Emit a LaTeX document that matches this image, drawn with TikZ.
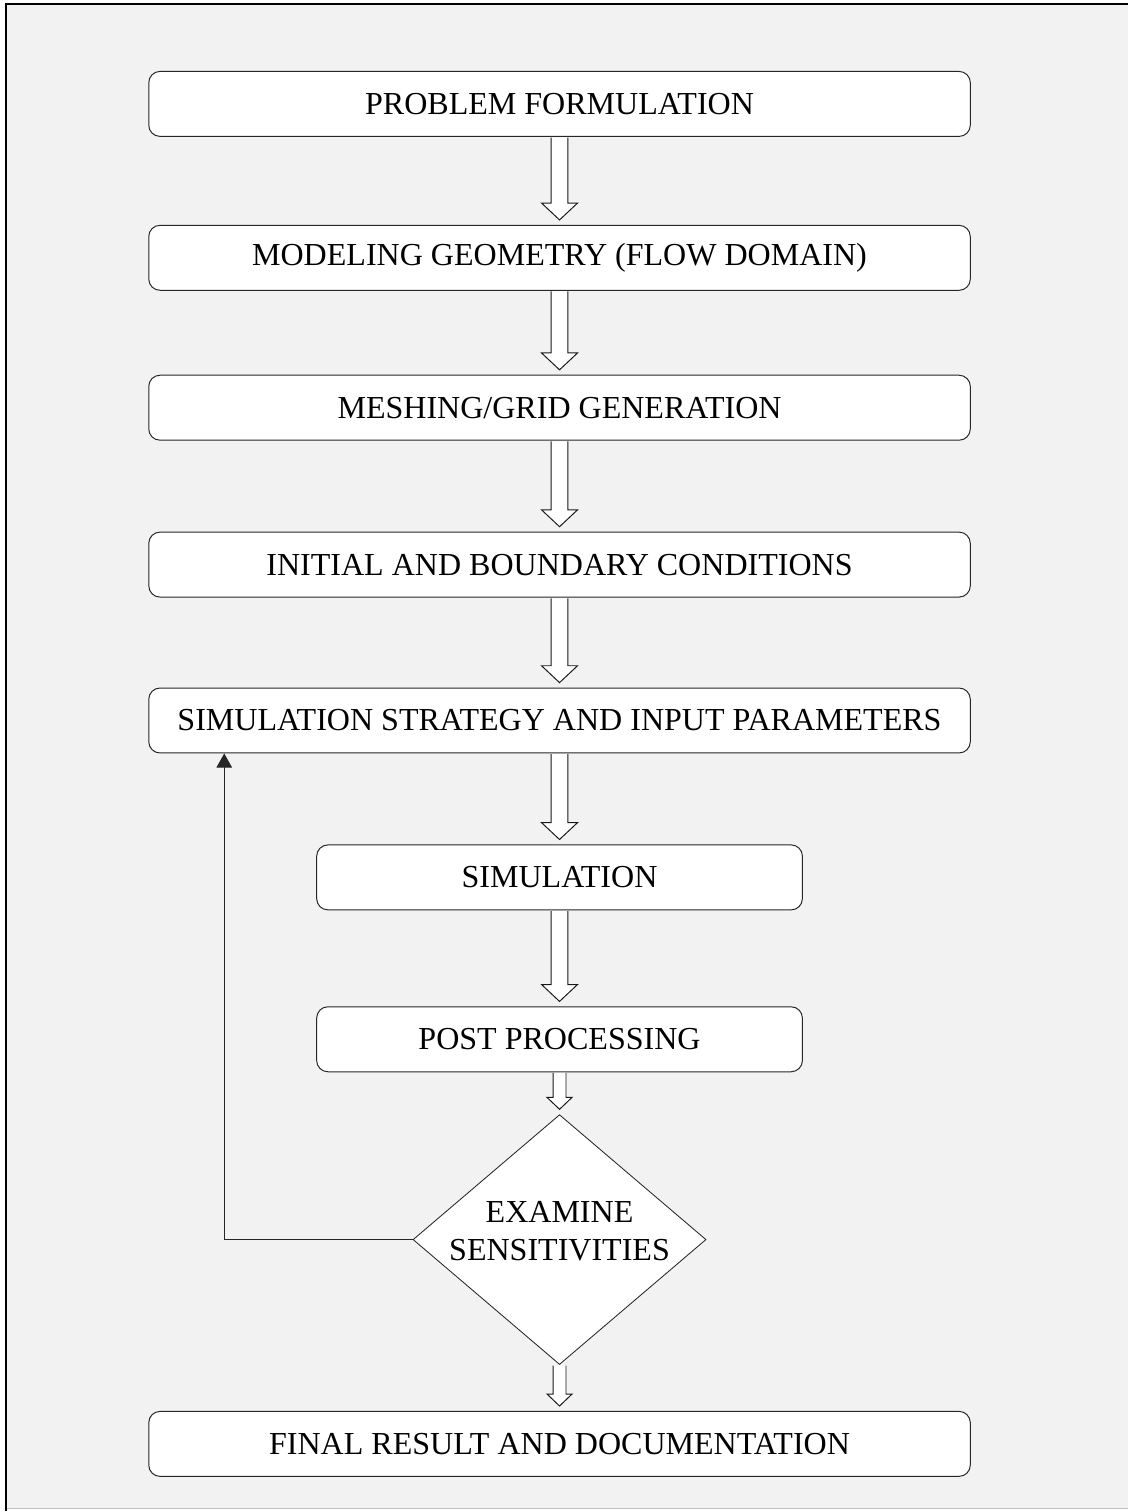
\documentclass[tikz,border=0pt]{standalone}
\usepackage{fontspec}
\setmainfont{Liberation Serif}
\usepackage{xcolor}
\usetikzlibrary{arrows.meta, positioning, shapes.geometric, calc}

\definecolor{panelgray}{HTML}{F2F2F2}
\definecolor{edgegray}{HTML}{C0C0C0}

% hollow block arrow from the bottom of #1 to the top of #2
% #3 shaft half width, #4 head half width, #5 head length
\newcommand{\fatarrow}[5]{%
  \draw[hollow] let \p1=(#1.south), \p2=(#2.north) in
    (\x1-#3,\y1-0.5pt) -- (\x1-#3,\y2+#5+3.5pt) -- (\x1-#4,\y2+#5+3.5pt)
    -- (\x1,\y2+3.5pt) -- (\x1+#4,\y2+#5+3.5pt) -- (\x1+#3,\y2+#5+3.5pt)
    -- (\x1+#3,\y1-0.5pt);
}

\begin{document}
\begin{tikzpicture}[
    x=0.025cm, y=-0.025cm,
    font=\fontsize{22.8}{27}\selectfont,
    stepbox/.style={rectangle, draw=black!85, line width=0.7pt, fill=white, rounded corners=8pt, minimum height=1.625cm, minimum width=20.55cm, align=center, inner sep=2pt},
    smallbox/.style={stepbox, minimum width=12.15cm},
    decision/.style={diamond, draw=black!85, line width=0.6pt, fill=white, minimum width=7.33cm, minimum height=6.25cm, inner sep=0pt},
    hollow/.style={draw=black!90, line width=0.7pt, fill=white, line join=miter},
    feedback/.style={-{Triangle[length=10pt, width=11pt]}, draw=black!85, line width=0.7pt},
]
    % Frame
    \fill[white] (0,0) rectangle (1129,1512);
    \fill[panelgray] (6,4) rectangle (1129,1510);
    \draw[edgegray, line width=1pt] (6,1510) -- (1129,1510);
    \draw[black, line width=1.8pt] (6,1512) -- (6,4) -- (1129,4);

    % Process steps
    \node[stepbox] (problem) at (560,104) {PROBLEM FORMULATION};
    \node[stepbox, below=2.2cm of problem] (geometry) {MODELING GEOMETRY (FLOW DOMAIN)};
    \node[stepbox, below=2.1cm of geometry] (meshing) {MESHING/GRID GENERATION};
    \node[stepbox, below=2.275cm of meshing] (conditions) {INITIAL AND BOUNDARY CONDITIONS};
    \node[stepbox, below=2.25cm of conditions] (strategy) {SIMULATION STRATEGY AND INPUT PARAMETERS};
    \node[smallbox, below=2.275cm of strategy] (simulation) {SIMULATION};
    \node[smallbox, below=2.4cm of simulation] (post) {POST PROCESSING};

    % Decision
    \node[decision, below=1.05cm of post] (examine) {};
    \node[align=center, yshift=0.2cm] (examtext) at (examine) {EXAMINE\\SENSITIVITIES};

    % Result
    \node[stepbox, below=1.15cm of examine] (final) {FINAL RESULT AND DOCUMENTATION};

    % Block arrows
    \fatarrow{problem}{geometry}{6pt}{12.8pt}{12pt}
    \fatarrow{geometry}{meshing}{6pt}{12.8pt}{12pt}
    \fatarrow{meshing}{conditions}{6pt}{12.8pt}{12pt}
    \fatarrow{conditions}{strategy}{6pt}{12.8pt}{12pt}
    \fatarrow{strategy}{simulation}{6pt}{12.8pt}{12pt}
    \fatarrow{simulation}{post}{6pt}{12.8pt}{12pt}
    \fatarrow{post}{examine}{4.6pt}{8.9pt}{8.5pt}
    \fatarrow{examine}{final}{4.6pt}{8.9pt}{8.5pt}

    % Loop back
    \draw[feedback] (examine.west) -| ([xshift=1.9cm]strategy.south west);
\end{tikzpicture}
\end{document}
